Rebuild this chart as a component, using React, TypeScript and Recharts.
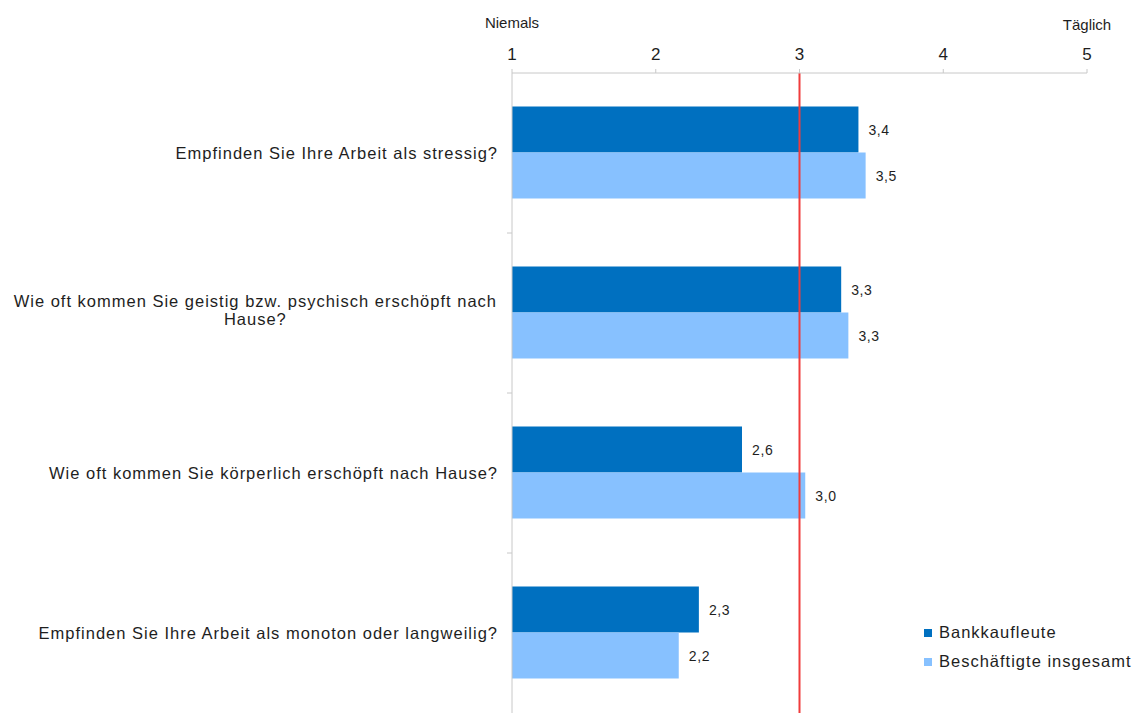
import React from 'react';
import { BarChart, Bar, XAxis, YAxis, ReferenceLine, Legend, LabelList } from 'recharts';

const categories = [
  'Empfinden Sie Ihre Arbeit als stressig?',
  'Wie oft kommen Sie geistig bzw. psychisch erschöpft nach\nHause?',
  'Wie oft kommen Sie körperlich erschöpft nach Hause?',
  'Empfinden Sie Ihre Arbeit als monoton oder langweilig?',
];
const bankkaufleute = [3.41, 3.29, 2.6, 2.3];
const beschaeftigte = [3.46, 3.34, 3.04, 2.16];
const xTicks = [1, 2, 3, 4, 5];
const endLabels: Record<number, string> = { 1: 'Niemals', 5: 'Täglich' };
const referenceValue = 3;

const FONT = '"Liberation Sans", Arial, sans-serif';
const DARK = '#0070C0';
const LIGHT = '#87C1FF';
const AXIS = '#C8C8C8';
const TEXT = '#1e1e1e';

// the reference text is a bit wider than plain Arial, so add some spacing
const CAT_SIZE = 16.5;
const CAT_SPACING = 1;

const data = categories.map((name, i) => ({
  name,
  Bankkaufleute: bankkaufleute[i],
  'Beschäftigte insgesamt': beschaeftigte[i],
}));

let ctx: CanvasRenderingContext2D | null = null;
const measure = (s: string, size: number, spacing: number) => {
  if (!ctx) ctx = document.createElement('canvas').getContext('2d');
  if (!ctx) return s.length * (size * 0.5 + spacing);
  ctx.font = `${size}px "Liberation Sans", Arial`;
  return ctx.measureText(s).width + s.length * spacing;
};

const XTick = (props: any) => {
  const { x, y, payload } = props;
  const v = payload.value;
  return (
    <g>
      <text x={x} y={y} textAnchor="middle" fontSize={17} fill={TEXT} fontFamily={FONT}>{v}</text>
      {endLabels[v] && (
        <text x={x} y={v === 1 ? y - 32 : y - 30} textAnchor="middle" fontSize={15} fill={TEXT} fontFamily={FONT}>
          {endLabels[v]}
        </text>
      )}
    </g>
  );
};

const CatTick = (props: any) => {
  const { x, y, payload, index } = props;
  const lines: string[] = String(payload.value).split('\n');
  const half = payload.offset || 0;
  const last = index === categories.length - 1;
  let textEl;
  if (lines.length === 1) {
    textEl = (
      <text x={x + CAT_SPACING} y={y + 6} textAnchor="end" fontSize={CAT_SIZE} letterSpacing={CAT_SPACING} fill={TEXT} fontFamily={FONT}>
        {lines[0]}
      </text>
    );
  } else {
    const w = Math.max(...lines.map(l => measure(l, CAT_SIZE, CAT_SPACING)));
    const cx = x - w / 2;
    textEl = (
      <text textAnchor="middle" fontSize={CAT_SIZE} letterSpacing={CAT_SPACING} fill={TEXT} fontFamily={FONT}>
        {lines.map((l, i) => (
          <tspan key={i} x={cx} y={y - 6 + i * 18}>{l}</tspan>
        ))}
      </text>
    );
  }
  return (
    <g>
      {textEl}
      {!last && <line x1={x + 10} x2={x + 15} y1={y + half} y2={y + half} stroke={AXIS} />}
    </g>
  );
};

const LegendBox = (props: any) => {
  const { payload } = props;
  return (
    <div style={{ fontFamily: FONT, fontSize: 16.5, letterSpacing: 1, color: TEXT }}>
      {(payload || []).map((p: any) => (
        <div key={p.value} style={{ display: 'flex', alignItems: 'center', height: 29, whiteSpace: 'nowrap' }}>
          <span style={{ width: 8, height: 8, background: p.color, marginRight: 7, display: 'inline-block', flexShrink: 0 }} />
          {p.value}
        </div>
      ))}
    </div>
  );
};

const fmt = (v: any) => Number(v).toFixed(1).replace('.', ',');

export default function App() {
  return (
    <div style={{ position: 'absolute', left: 0, top: 0, background: '#fff' }}>
      <BarChart
        width={1139}
        height={715}
        data={data}
        layout="vertical"
        margin={{ top: 43, right: 52, bottom: 2, left: 12 }}
        barCategoryGap="21%"
        barGap={0}
      >
        <XAxis
          type="number"
          orientation="top"
          domain={[1, 5]}
          ticks={xTicks}
          height={30}
          tickSize={4}
          tickMargin={9}
          stroke={AXIS}
          axisLine={{ stroke: AXIS }}
          tickLine={{ stroke: AXIS }}
          tick={<XTick />}
          allowDataOverflow
        />
        <YAxis
          type="category"
          dataKey="name"
          width={500}
          tickSize={5}
          tickMargin={10}
          axisLine={{ stroke: AXIS }}
          tickLine={false}
          tick={<CatTick />}
          interval={0}
        />
        <Legend
          layout="vertical"
          align="center"
          verticalAlign="middle"
          wrapperStyle={{ left: 924, top: 618, width: 215 }}
          content={<LegendBox />}
        />
        <Bar dataKey="Bankkaufleute" fill={DARK} isAnimationActive={false}>
          <LabelList dataKey="Bankkaufleute" position="right" offset={10} formatter={fmt} fontSize={14} letterSpacing={0.6} fill={TEXT} fontFamily={FONT} />
        </Bar>
        <Bar dataKey="Beschäftigte insgesamt" fill={LIGHT} isAnimationActive={false}>
          <LabelList dataKey="Beschäftigte insgesamt" position="right" offset={10} formatter={fmt} fontSize={14} letterSpacing={0.6} fill={TEXT} fontFamily={FONT} />
        </Bar>
        <ReferenceLine x={referenceValue} stroke="#F03C3C" strokeWidth={2} />
      </BarChart>
    </div>
  );
}
